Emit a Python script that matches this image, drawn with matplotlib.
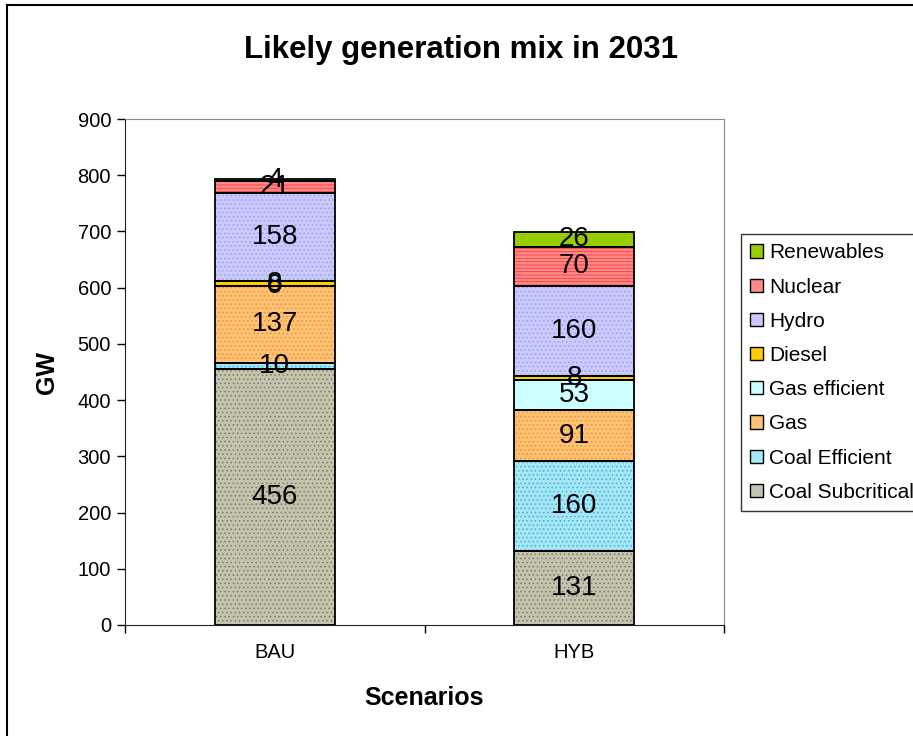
import numpy as np
import matplotlib
import matplotlib.pyplot as plt
from matplotlib.patches import Patch
from matplotlib.lines import Line2D

matplotlib.use('Agg')
plt.rcParams['font.family'] = ['Liberation Sans', 'DejaVu Sans']
plt.rcParams['hatch.linewidth'] = 0.6

scenarios = ["BAU", "HYB"]
sources = ["Coal Subcritical", "Coal Efficient", "Gas", "Gas efficient",
           "Diesel", "Hydro", "Nuclear", "Renewables"]
bau = [456, 10, 137, 0, 8, 158, 21, 4]
hyb = [131, 160, 91, 53, 8, 160, 70, 26]

# base colour, hatch colour, hatch pattern
styles = {
    "Coal Subcritical": ("#C4C4AE", "#7E7E68", "...."),
    "Coal Efficient": ("#A6E6F6", "#3CB4DC", "...."),
    "Gas": ("#FFC274", "#EE9030", "...."),
    "Gas efficient": ("#CCFFFF", None, None),
    "Diesel": ("#FFCC00", None, None),
    "Hydro": ("#CACAFF", "#9A9AEE", "...."),
    "Nuclear": ("#FF8A8A", "#FF3838", "-----"),
    "Renewables": ("#99CC00", None, None),
}

W, H = 913, 736
fig = plt.figure(figsize=(W / 100, H / 100), dpi=100)
ax = fig.add_axes([125 / W, 1 - 625 / H, 599 / W, 506 / H])

x = np.arange(len(scenarios))
width = 0.4
bottoms = np.zeros(len(scenarios))
for i, name in enumerate(sources):
    vals = np.array([bau[i], hyb[i]])
    base, hcol, hatch = styles[name]
    if hatch:
        ax.bar(x, vals, width, bottom=bottoms, color=base, edgecolor=hcol,
               hatch=hatch, linewidth=0, zorder=2)
    else:
        ax.bar(x, vals, width, bottom=bottoms, color=base, linewidth=0, zorder=2)
    ax.bar(x, vals, width, bottom=bottoms, fill=False, edgecolor="black",
           linewidth=1.3, zorder=3)
    for xi, v, b in zip(x, vals, bottoms):
        ax.text(xi, b + v / 2, f"{v}", ha="center", va="center",
                fontsize=20, zorder=4)
    bottoms += vals

ax.set_xlim(-0.5, 1.5)
ax.set_ylim(0, 900)
ax.set_yticks(np.arange(0, 901, 100))
ax.set_xticks(x)
ax.set_xticklabels(scenarios)
ax.set_xticks([-0.5, 0.5, 1.5], minor=True)
ax.tick_params(axis="x", which="major", length=0, pad=13, labelsize=14.5)
ax.tick_params(axis="x", which="minor", length=6, width=1, direction="out")
ax.tick_params(axis="y", length=6, width=1, direction="out", labelsize=14.5,
               pad=4)

for side in ["top", "right"]:
    ax.spines[side].set_color("#888888")
for side in ["left", "bottom"]:
    ax.spines[side].set_color("#222222")

fig.text(47 / W, 1 - 372 / H, "GW", rotation=90, ha="center", va="center",
         fontsize=18, fontweight="bold")
fig.text(424 / W, 1 - 698 / H, "Scenarios", ha="center", va="center",
         fontsize=18, fontweight="bold")
fig.text(461 / W, 1 - 50 / H, "Likely generation mix in 2031",
         ha="center", va="center", fontsize=22.5, fontweight="bold")

handles = []
for name in sources[::-1]:
    base, hcol, hatch = styles[name]
    handles.append(Patch(facecolor=base, edgecolor="black", linewidth=1.0))
leg = fig.legend(handles, sources[::-1], loc="upper left",
                 bbox_to_anchor=(741 / W, 1 - 234 / H),
                 fontsize=15, frameon=True, fancybox=False,
                 edgecolor="black", handlelength=0.6, handleheight=0.6,
                 handletextpad=0.3, labelspacing=0.73, borderaxespad=0,
                 borderpad=0.45)
leg.get_frame().set_linewidth(1.0)

# outer chart border (left and top visible in the reference)
fig.add_artist(Line2D([7 / W, 7 / W], [0, 1 - 5 / H],
                      transform=fig.transFigure, color="black", lw=1.5))
fig.add_artist(Line2D([7 / W, 1], [1 - 5 / H, 1 - 5 / H],
                      transform=fig.transFigure, color="black", lw=1.5))

fig.savefig("out.png", dpi=100)
